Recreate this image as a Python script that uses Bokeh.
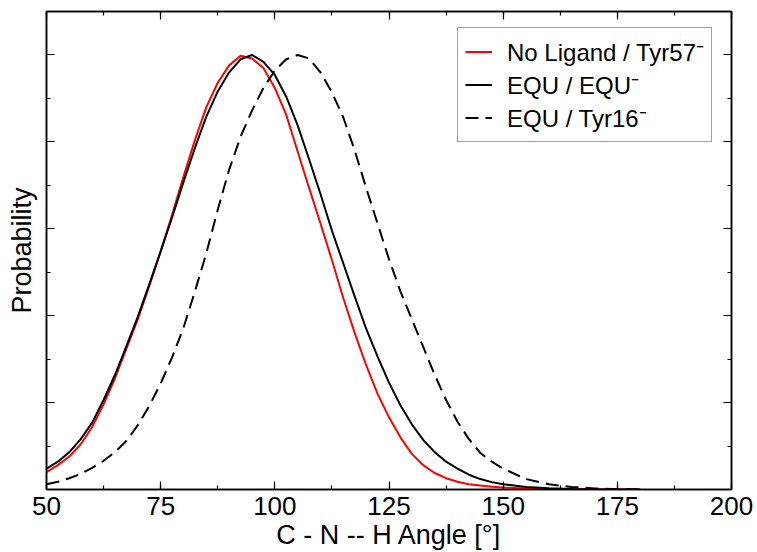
from bokeh.plotting import figure
from bokeh.models import (LinearAxis, SingleIntervalTicker, Range1d, Legend, LegendItem,
                          CustomLabelingPolicy)
from bokeh.embed import file_html
from bokeh.resources import INLINE

angles = [50, 52.5, 55, 57.5, 60, 62.5, 65, 67.5, 70, 72.5, 75, 77.5, 80, 82.5, 85, 87.5,
          90, 92.5, 95, 97.5, 100, 102.5, 105, 107.5, 110, 112.5, 115, 117.5, 120, 122.5,
          125, 127.5, 130, 132.5, 135, 137.5, 140, 142.5, 145, 147.5, 150,
          155, 160, 165, 170, 175, 180]

no_ligand_tyr57 = [0.20, 0.28, 0.38, 0.52, 0.72, 0.98, 1.28, 1.62, 1.96, 2.34, 2.74, 3.16,
                   3.60, 4.02, 4.40, 4.68, 4.88, 4.99, 4.96, 4.85, 4.62, 4.31, 3.89, 3.47,
                   3.06, 2.64, 2.20, 1.80, 1.43, 1.10, 0.83, 0.60, 0.41, 0.28, 0.19, 0.13,
                   0.09, 0.06, 0.045, 0.033, 0.024, 0.012, 0.006, 0.003, 0.001, 0.0, 0.0]

equ_equ = [0.24, 0.32, 0.43, 0.58, 0.77, 1.03, 1.32, 1.65, 1.99, 2.36, 2.74, 3.13,
           3.54, 3.93, 4.29, 4.58, 4.80, 4.95, 5.00, 4.92, 4.77, 4.52, 4.19, 3.80,
           3.40, 2.98, 2.60, 2.22, 1.85, 1.53, 1.23, 0.97, 0.75, 0.57, 0.43, 0.32,
           0.24, 0.17, 0.12, 0.085, 0.06, 0.03, 0.015, 0.007, 0.003, 0.001, 0.0]

equ_tyr16 = [0.06, 0.09, 0.13, 0.18, 0.25, 0.33, 0.43, 0.56, 0.74, 0.96, 1.22, 1.52,
             1.86, 2.28, 2.72, 3.22, 3.68, 4.06, 4.36, 4.62, 4.82, 4.95, 5.00, 4.96,
             4.80, 4.57, 4.28, 3.90, 3.47, 3.06, 2.65, 2.28, 1.96, 1.64, 1.32, 1.03,
             0.78, 0.58, 0.42, 0.32, 0.24, 0.12, 0.06, 0.03, 0.012, 0.004, 0.0]

series_labels = ["No Ligand / Tyr57\u207b", "EQU / EQU\u207b", "EQU / Tyr16\u207b"]
x_label = "C - N -- H Angle [°]"
y_label = "Probability"

FONT = "Liberation Sans"

p = figure(width=757, height=552, output_backend="svg", toolbar_location=None,
           x_range=Range1d(50, 200), y_range=Range1d(0, 5.5),
           min_border_left=46, min_border_right=26, min_border_top=11, min_border_bottom=63)
p.xgrid.visible = False
p.ygrid.visible = False
p.outline_line_color = "black"
p.outline_line_width = 1.5
p.background_fill_color = "white"
p.border_fill_color = "white"

r1 = p.line(angles, no_ligand_tyr57, line_color="#ff0000", line_width=2)
r2 = p.line(angles, equ_equ, line_color="black", line_width=2)
r3 = p.line(angles, equ_tyr16, line_color="black", line_width=2, line_dash="13 7")

HIDE = "for (const i of indices) { indices.unset(i) }; return indices;"

def style_axis(ax, show_labels):
    ax.axis_line_color = "black"
    ax.axis_line_width = 1.5
    ax.major_tick_in = 8
    ax.major_tick_out = 0
    ax.minor_tick_in = 4
    ax.minor_tick_out = 0
    ax.major_tick_line_color = "black"
    ax.minor_tick_line_color = "black"
    ax.major_tick_line_width = 1.2
    ax.minor_tick_line_width = 1.2
    if show_labels:
        ax.major_label_text_font = FONT
        ax.major_label_text_font_size = "26px"
        ax.major_label_text_color = "black"
        ax.major_label_standoff = 7
    else:
        ax.major_label_policy = CustomLabelingPolicy(code=HIDE)
        ax.major_label_standoff = 0
    ax.axis_label_text_font = FONT
    ax.axis_label_text_font_style = "normal"
    ax.axis_label_text_font_size = "27px"
    ax.axis_label_text_color = "black"

p.xaxis.ticker = SingleIntervalTicker(interval=25, num_minor_ticks=2)
p.yaxis.ticker = SingleIntervalTicker(interval=1, num_minor_ticks=2)
style_axis(p.xaxis[0], True)
style_axis(p.yaxis[0], False)
p.xaxis.axis_label = x_label
p.xaxis.axis_label_standoff = 2
p.yaxis.axis_label = y_label
p.yaxis.axis_label_standoff = 0

top = LinearAxis(ticker=SingleIntervalTicker(interval=25, num_minor_ticks=2))
style_axis(top, False)
p.add_layout(top, "above")
right = LinearAxis(ticker=SingleIntervalTicker(interval=1, num_minor_ticks=2))
style_axis(right, False)
p.add_layout(right, "right")

legend = Legend(items=[LegendItem(label=series_labels[0], renderers=[r1]),
                       LegendItem(label=series_labels[1], renderers=[r2]),
                       LegendItem(label=series_labels[2], renderers=[r3])],
                location=(411, 347))
legend.label_text_font = FONT
legend.label_text_font_size = "24px"
legend.label_text_color = "black"
legend.glyph_width = 27
legend.label_standoff = 15
legend.padding = 7
legend.spacing = 0
legend.label_height = 27
legend.glyph_height = 27
legend.margin = 0
legend.border_line_color = "#444444"
legend.border_line_width = 1.5
legend.background_fill_alpha = 1
p.add_layout(legend, "center")

open("out.html", "w").write(file_html(p, INLINE))
